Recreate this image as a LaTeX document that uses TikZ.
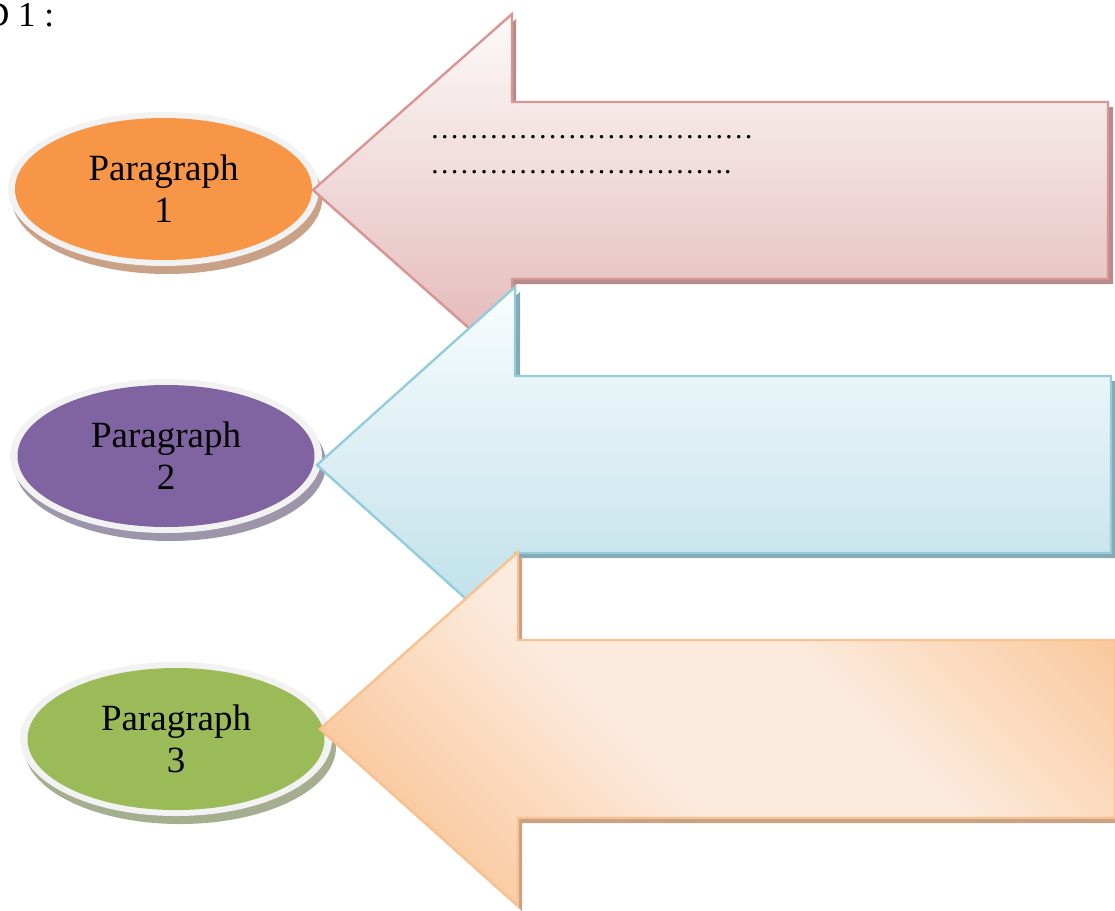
\documentclass[tikz,border=0pt]{standalone}
\usepackage{fontspec}
\setmainfont{Liberation Serif}
\usetikzlibrary{shapes.geometric}
\definecolor{pinkB}{HTML}{D99694}
\definecolor{pinkT}{HTML}{FCFAFA}
\definecolor{pinkD}{HTML}{E3B5B5}
\definecolor{pinkS}{HTML}{B58C8C}
\definecolor{blueB}{HTML}{93CDDD}
\definecolor{blueT}{HTML}{FAFDFE}
\definecolor{blueD}{HTML}{B9DEE7}
\definecolor{blueS}{HTML}{86A9B3}
\definecolor{oraB}{HTML}{FAC090}
\definecolor{oraL}{HTML}{FCEADC}
\definecolor{oraD}{HTML}{F9C596}
\definecolor{oraS}{HTML}{C9A183}
\definecolor{ellO}{HTML}{F79646}
\definecolor{ellOS}{HTML}{C9A187}
\definecolor{ellP}{HTML}{8064A2}
\definecolor{ellPS}{HTML}{9D95AA}
\definecolor{ellG}{HTML}{9BBB59}
\definecolor{ellGS}{HTML}{A6AE90}
\definecolor{ring}{HTML}{F2F2F2}
\pgfdeclarehorizontalshading{orashade}{100bp}{color(0bp)=(oraD); color(22bp)=(oraD); color(44bp)=(oraL); color(60bp)=(oraL); color(82bp)=(oraD); color(100bp)=(oraD)}
\newcommand\myell{…}
\tikzset{
  label37/.style={ellipse, inner sep=0pt, minimum width=297pt, minimum height=142pt,
    align=center, font=\fontsize{37}{42}\selectfont, text=black},
  arrowedge/.style={line width=2.4pt, line join=miter},
  dotstext/.style={anchor=base west, inner sep=0pt, font=\fontsize{29.4}{35}\selectfont},
}
\begin{document}
\begin{tikzpicture}[x=1pt,y=-1pt]
\useasboundingbox (0,0) rectangle (1115,910);
\fill[white] (0,0) rectangle (1115,910);
\node[anchor=base west, inner sep=0pt, font=\fontsize{35}{40}\selectfont] (title) at (-16,26) {D 1 :};

% ---- ellipses
\fill[ellOS] (167,197) ellipse [x radius=155.5, y radius=77];
\fill[ring] (163.5,189) ellipse [x radius=155.5, y radius=77];
\node[label37, fill=ellO] (e1) at (163.5,189) {Paragraph\\1};

\fill[ellPS] (170,464) ellipse [x radius=156, y radius=77];
\fill[ring] (166,456) ellipse [x radius=156, y radius=77];
\node[label37, fill=ellP] (e2) at (166,456) {Paragraph\\2};

\fill[ellGS] (180,747) ellipse [x radius=156, y radius=77];
\fill[ring] (176,739) ellipse [x radius=156, y radius=77];
\node[label37, fill=ellG] (e3) at (176,739) {Paragraph\\3};

% ---- arrow 1 (pink)
\fill[pinkS] (317,195) -- (516,19) -- (516,107) -- (1113,107) -- (1113,284) -- (516,284) -- (516,371) -- cycle;
\shade[top color=pinkT, bottom color=pinkD, draw=pinkB, arrowedge]
  (313,190) -- (512,14) -- (512,102) -- (1108,102) -- (1108,279) -- (512,279) -- (512,366) -- cycle;
\node[dotstext] (dots1) at (430,138) {\myell\myell\myell\myell\myell\myell\myell\myell\myell\myell\myell};
\node[dotstext] (dots2) at (430,173) {\myell\myell\myell\myell\myell\myell\myell\myell\myell\myell.};

% ---- arrow 2 (blue)
\fill[blueS] (321,470) -- (520,292) -- (520,381) -- (1116,381) -- (1116,558) -- (520,558) -- (520,648) -- cycle;
\shade[top color=blueT, bottom color=blueD, draw=blueB, arrowedge]
  (317,465) -- (515,287) -- (515,376) -- (1111,376) -- (1111,553) -- (515,553) -- (515,643) -- cycle;

% ---- arrow 3 (orange)
\fill[oraS] (324,734) -- (522,557) -- (522,645) -- (1120,645) -- (1120,823) -- (522,823) -- (522,911) -- cycle;
\shade[shading=orashade, shading angle=45, draw=oraB, arrowedge]
  (320,729) -- (518,552) -- (518,640) -- (1115,640) -- (1115,818) -- (518,818) -- (518,906) -- cycle;
\end{tikzpicture}
\end{document}
